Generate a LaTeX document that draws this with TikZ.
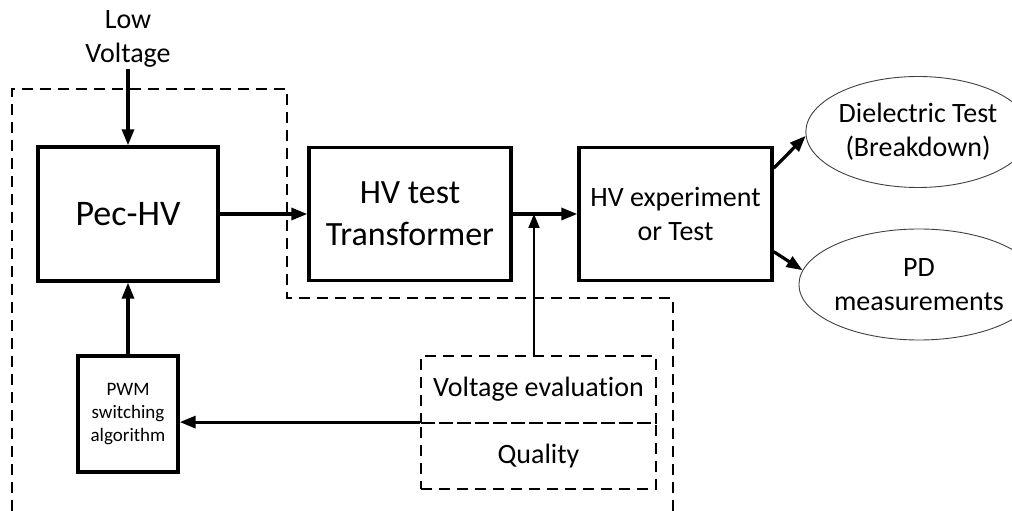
\documentclass[tikz,border=0pt]{standalone}
\usepackage{fontspec}
\setmainfont{Carlito}[Ligatures={NoCommon,NoRequired,NoContextual}]
\usetikzlibrary{positioning,arrows.meta,shapes.geometric,calc}
\tikzset{
  block/.style={draw=black, line width=3.4bp, align=center, inner sep=0pt},
  dashbox/.style={draw=black, line width=1.8bp, dash pattern=on 11bp off 7bp, align=center, inner sep=0pt},
  result/.style={draw=black!75, line width=0.9bp, ellipse, align=center, inner sep=0pt},
  flow/.style={line width=3.2bp, -{Triangle[length=16bp,width=12bp]}},
  feed/.style={line width=1.8bp, -{Triangle[length=14bp,width=11bp]}},
  border/.style={line width=1.6bp, dash pattern=on 11bp off 7bp},
  midtext/.style={font=\fontsize{28bp}{34bp}\selectfont}
}

\begin{document}
\begin{tikzpicture}[x=1bp, y=-1bp]
    \useasboundingbox (0,0) rectangle (1012,511);

    % outer dashed region
    \draw[border] (12,511) -- (12,89) -- (287,89) -- (287,298) -- (673,298) -- (673,511);

    \node[block, minimum width=180bp, minimum height=134bp, font=\fontsize{36bp}{44bp}\selectfont] (pec) at (128,214) {Pec-HV};
    \node[block, minimum width=202bp, minimum height=133bp, font=\fontsize{34bp}{42bp}\selectfont] (trafo) at (410,214) {HV test\\Transformer};
    \node[block, midtext, minimum width=193bp, minimum height=133bp] (exper) at (675.5,214) {HV experiment\\or Test};
    \node[block, minimum width=100bp, minimum height=116bp, font=\fontsize{19bp}{23bp}\selectfont] (pwm) at (128,414) {PWM\\switching\\algorithm};
    \node[dashbox, midtext, minimum width=235bp, minimum height=67bp] (veval) at (538.5,389.5) {Voltage evaluation};
    \node[dashbox, midtext, minimum width=235bp, minimum height=66bp] (qual) at (538.5,456) {Quality};
    \node[result, midtext, minimum width=190bp, minimum height=111bp] (diel) at (918,132) {Dielectric Test\\(Breakdown)};
    \node[result, midtext, minimum width=186bp, minimum height=111bp] (pd) at (919,284.5) {PD\\measurements};
    \node[midtext, align=center, inner sep=1bp] (lowv) at (128,39) {Low\\Voltage};
    \coordinate (tap) at (534,214);

    \draw[flow] (lowv.south) -- (lowv.south |- pec.north);
    \draw[flow] (pec.east) -- (trafo.west);
    \draw[flow] (trafo) -- (exper);
    \draw[feed] (veval.north -| tap) -- (tap);
    \draw[flow] (qual.north west) -- (qual.north west -| pwm.east);
    \draw[flow] (pwm.north) -- (pec.south);
    \draw[flow] (exper.25) -- (diel.182);
    \draw[flow] (exper.-21) -- (pd.173);
\end{tikzpicture}
\end{document}
